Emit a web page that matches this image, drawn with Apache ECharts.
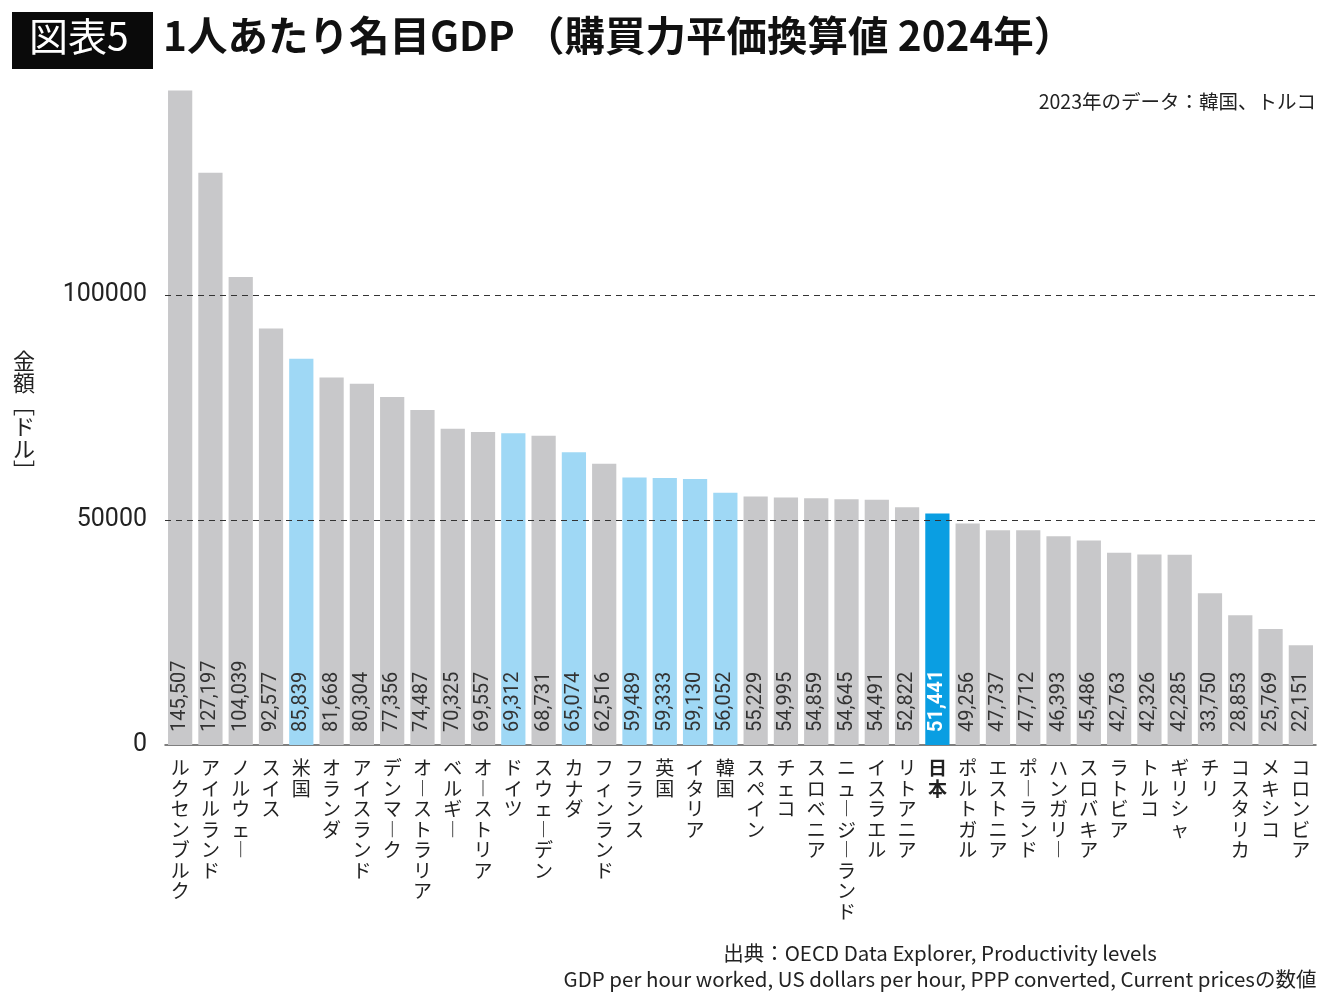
<!DOCTYPE html>
<html>
<head>
<meta charset="utf-8">
<script src="https://cdn.jsdelivr.net/npm/echarts@6/dist/echarts.min.js"></script>
<style>
  html, body { margin: 0; padding: 0; background: #fff; }
  #main { width: 1336px; height: 992px; }
</style>
</head>
<body>
<div id="main"></div>
<script>
// 国名（左から順）
const countries = [
    'ルクセンブルク', 'アイルランド', 'ノルウェー', 'スイス', '米国', 'オランダ',
    'アイスランド', 'デンマーク', 'オーストラリア', 'ベルギー', 'オーストリア', 'ドイツ',
    'スウェーデン', 'カナダ', 'フィンランド', 'フランス', '英国', 'イタリア', '韓国',
    'スペイン', 'チェコ', 'スロベニア', 'ニュージーランド', 'イスラエル', 'リトアニア',
    '日本', 'ポルトガル', 'エストニア', 'ポーランド', 'ハンガリー', 'スロバキア',
    'ラトビア', 'トルコ', 'ギリシャ', 'チリ', 'コスタリカ', 'メキシコ', 'コロンビア'
];

// 1人あたり名目GDP（購買力平価換算値、ドル）
const gdpValues = [
    145507, 127197, 104039, 92577, 85839, 81668,
    80304, 77356, 74487, 70325, 69557, 69312,
    68731, 65074, 62516, 59489, 59333, 59130, 56052,
    55229, 54995, 54859, 54645, 54491, 52822,
    51441, 49256, 47737, 47712, 46393, 45486,
    42763, 42326, 42285, 33750, 28853, 25769, 22151
];

// 水色で示す国
const highlighted = ['米国', 'ドイツ', 'カナダ', 'フランス', '英国', 'イタリア', '韓国'];
const japan = '日本';

const yTicks = [0, 50000, 100000];

let myChart = echarts.init(document.getElementById('main'));

const GRAY = '#c8c8ca';
const LIGHT = '#9fd8f5';
const JP = '#0a9ee2';
const FONT = 'Roboto, "Noto Sans CJK JP", sans-serif';
const JFONT = '"Noto Sans CJK JP", sans-serif';

// 縦書き用に文字を並べ替え
function verticalize(s) {
    return s.split('').map(function (c) {
        return c === 'ー' ? '︱' : c;
    }).join('\n');
}

const barData = gdpValues.map(function (v, i) {
    const name = countries[i];
    let color = GRAY;
    let labelColor = '#333';
    let weight = 'normal';
    if (name === japan) {
        color = JP;
        labelColor = '#fff';
        weight = 'bold';
    } else if (highlighted.indexOf(name) >= 0) {
        color = LIGHT;
    }
    return {
        value: v,
        itemStyle: { color: color },
        label: { color: labelColor, fontWeight: weight }
    };
});

const categoryData = countries.map(function (c) {
    return c === japan ? { value: c, textStyle: { fontWeight: 'bold' } } : c;
});

option = {
    backgroundColor: '#fff',
    animation: false,
    grid: {
        left: 165,
        right: 20,
        top: 90,
        bottom: 247
    },
    xAxis: {
        type: 'category',
        data: categoryData,
        axisLine: { lineStyle: { color: '#555', width: 1.5 } },
        axisTick: { show: false },
        axisLabel: {
            interval: 0,
            margin: 13,
            fontFamily: JFONT,
            fontSize: 19,
            lineHeight: 20.5,
            color: '#222',
            verticalAlign: 'top',
            formatter: verticalize
        }
    },
    yAxis: {
        type: 'value',
        min: 0,
        max: 145600,
        interval: 50000,
        axisLine: { show: false },
        axisTick: { show: false },
        splitLine: { show: false },
        axisLabel: {
            margin: 18,
            fontFamily: FONT,
            fontSize: 25,
            color: '#222',
            showMaxLabel: false,
            formatter: function (v) { return String(v); }
        }
    },
    series: [
        {
            type: 'bar',
            data: barData,
            barCategoryGap: '20%',
            label: {
                show: true,
                position: 'insideBottom',
                rotate: 90,
                align: 'left',
                verticalAlign: 'middle',
                distance: 13,
                fontFamily: FONT,
                fontSize: 20,
                formatter: function (p) {
                    return p.value.toLocaleString('en-US');
                }
            },
            markLine: {
                silent: true,
                symbol: 'none',
                label: { show: false },
                lineStyle: { color: '#333', type: [6, 5], width: 1 },
                data: yTicks.filter(function (t) { return t > 0; }).map(function (t) {
                    return { yAxis: t };
                })
            }
        }
    ],
    graphic: [
        {
            type: 'rect',
            shape: { x: 12, y: 12, width: 141, height: 57 },
            style: { fill: '#0a0a0a' }
        },
        {
            type: 'text',
            left: 29,
            top: 17,
            style: {
                text: '図表5',
                fill: '#fff',
                font: '39px ' + JFONT
            }
        },
        {
            type: 'text',
            left: 163,
            top: 15,
            style: {
                text: '1人あたり名目GDP （購買力平価換算値 2024年）',
                fill: '#111',
                font: 'bold 40.5px ' + JFONT
            }
        },
        {
            type: 'text',
            right: 20,
            top: 92,
            style: {
                text: '2023年のデータ：韓国、トルコ',
                fill: '#222',
                font: '19.5px ' + JFONT
            }
        },
        {
            type: 'text',
            left: 13,
            top: 350,
            style: {
                text: '金\n額\n﹇\nド\nル\n﹈',
                fill: '#222',
                font: '22px ' + JFONT,
                lineHeight: 22
            }
        },
        {
            type: 'text',
            x: 940,
            y: 943,
            style: {
                text: '出典：OECD Data Explorer, Productivity levels',
                fill: '#222',
                align: 'center',
                font: '20.5px ' + JFONT
            }
        },
        {
            type: 'text',
            x: 940,
            y: 969,
            style: {
                text: 'GDP per hour worked, US dollars per hour, PPP converted, Current pricesの数値',
                fill: '#222',
                align: 'center',
                font: '20.5px ' + JFONT
            }
        }
    ]
};

myChart.setOption(option);
</script>
</body>
</html>
